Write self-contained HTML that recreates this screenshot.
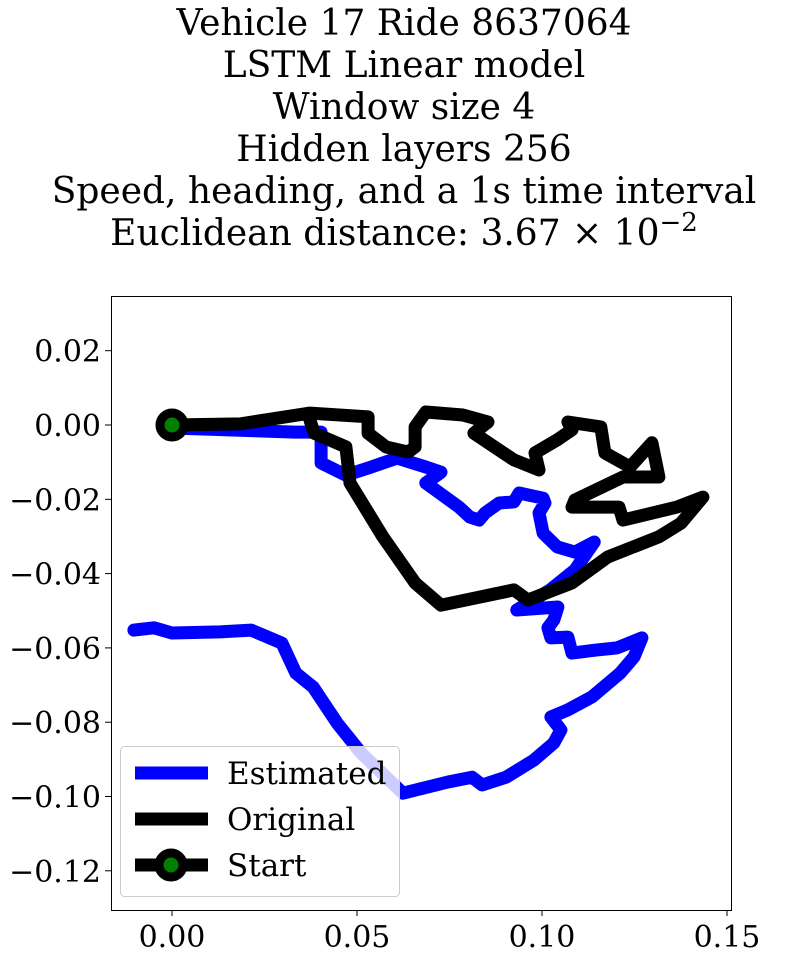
<!DOCTYPE html>
<html><head><meta charset="utf-8"><style>
body{margin:0;background:#fff;}
svg text{font-family:"DejaVu Serif","Liberation Serif",serif;fill:#000;}
</style></head><body>
<svg id="chart" width="795" height="958" viewBox="0 0 795 958" xmlns="http://www.w3.org/2000/svg">
<g font-size="36" text-anchor="middle">
<text x="404" y="35">Vehicle 17 Ride 8637064</text>
<text x="404" y="77">LSTM Linear model</text>
<text x="404" y="119">Window size 4</text>
<text x="404" y="161">Hidden layers 256</text>
<text x="404" y="203">Speed, heading, and a 1s time interval</text>
<text x="404" y="245">Euclidean distance: 3.67 × 10<tspan font-size="26" dy="-14">−2</tspan></text>
</g>
<defs><clipPath id="clip"><rect x="111" y="296" width="620" height="614"/></clipPath></defs>
<g id="marks" clip-path="url(#clip)"></g>
<rect x="111.5" y="296.5" width="620" height="614" fill="none" stroke="#000" stroke-width="1"/>
<g id="xticks" font-size="30" text-anchor="middle"></g>
<g id="yticks" font-size="30" text-anchor="end"></g>
<g>
<rect x="120.5" y="746.5" width="279" height="150" rx="4" fill="#fff" fill-opacity="0.8" stroke="#ccc"/>
<line x1="135" y1="773" x2="208" y2="773" stroke="#0000ff" stroke-width="13"/>
<text x="227" y="784" font-size="31">Estimated</text>
<line x1="135" y1="819" x2="208" y2="819" stroke="#000" stroke-width="13"/>
<text x="227" y="830" font-size="31">Original</text>
<line x1="135" y1="865" x2="208" y2="865" stroke="#000" stroke-width="13"/>
<circle cx="171" cy="865" r="12" fill="#008000" stroke="#000" stroke-width="9"/>
<text x="227" y="876" font-size="31">Start</text>
</g>
</svg>
<script>
const estX=[0,0.0332,0.0403,0.0403,0.0470,0.0530,0.0608,0.0686,0.0727,0.0716,0.0686,0.0776,0.0805,0.0830,0.0846,0.0884,0.0924,0.0938,0.1003,0.1008,0.0992,0.1003,0.1041,0.1089,0.1141,0.1089,0.1022,0.0932,0.1043,0.1032,0.1016,0.1024,0.1070,0.1081,0.1146,0.1203,0.1270,0.1249,0.1211,0.1135,0.1070,0.1024,0.1051,0.1032,0.0978,0.0903,0.0838,0.0811,0.0746,0.0624,0.0511,0.0446,0.0381,0.0335,0.0297,0.0214,0.0130,0,-0.0049,-0.0103];
const estY=[-0.0008,-0.0019,-0.0019,-0.0102,-0.0135,-0.0116,-0.0089,-0.0113,-0.0127,-0.0135,-0.0156,-0.0221,-0.0248,-0.0256,-0.0237,-0.0210,-0.0207,-0.0183,-0.0197,-0.0210,-0.0237,-0.0291,-0.0328,-0.0342,-0.0315,-0.0390,-0.0444,-0.0498,-0.0490,-0.0525,-0.0546,-0.0573,-0.0571,-0.0614,-0.0606,-0.0600,-0.0573,-0.0624,-0.0668,-0.0732,-0.0767,-0.0786,-0.0821,-0.0856,-0.0902,-0.0948,-0.0969,-0.0948,-0.0961,-0.0991,-0.0883,-0.0802,-0.0705,-0.0668,-0.0587,-0.0552,-0.0557,-0.0560,-0.0546,-0.0552];
const origX=[0,0.0184,0.0373,0.0530,0.0530,0.0578,0.0638,0.0657,0.0657,0.0686,0.0786,0.0854,0.0816,0.0924,0.0992,0.0981,0.1041,0.1081,0.1070,0.1159,0.1170,0.1238,0.1297,0.1316,0.1219,0.1089,0.1081,0.1208,0.1219,0.1365,0.1435,0.1376,0.1316,0.1178,0.1081,0.0962,0.0924,0.0727,0.0657,0.0570,0.0481,0.0470,0.0384,0.0373];
const origY=[0,0.0003,0.0032,0.0022,-0.0022,-0.0059,-0.0073,-0.0059,-0.0005,0.0035,0.0027,0.0008,-0.0022,-0.0094,-0.0121,-0.0075,-0.0040,-0.0013,0.0008,-0.0005,-0.0075,-0.0113,-0.0048,-0.0140,-0.0140,-0.0202,-0.0221,-0.0221,-0.0256,-0.0221,-0.0194,-0.0264,-0.0301,-0.0355,-0.0425,-0.0471,-0.0444,-0.0485,-0.0425,-0.0301,-0.0156,-0.0059,-0.0022,0.0013];
const startPt=[0,0];
const xTicks=[0,0.05,0.10,0.15];
const xTickLabels=["0.00","0.05","0.10","0.15"];
const yTicks=[0.02,0,-0.02,-0.04,-0.06,-0.08,-0.10,-0.12];
const yTickLabels=["0.02","0.00","−0.02","−0.04","−0.06","−0.08","−0.10","−0.12"];

const NS="http://www.w3.org/2000/svg";
function sx(v){return 172+v*3700;}
function sy(v){return 425-v*3715;}
const marks=document.getElementById('marks');
function path(xs,ys,color,name){
  const p=document.createElementNS(NS,'polyline');
  p.setAttribute('points',xs.map((x,i)=>sx(x).toFixed(1)+','+sy(ys[i]).toFixed(1)).join(' '));
  p.setAttribute('fill','none');p.setAttribute('stroke',color);p.setAttribute('stroke-width','13');
  p.setAttribute('stroke-linejoin','round');p.setAttribute('stroke-linecap','round');
  
  
  marks.appendChild(p);
}
path(estX,estY,'#0000ff','estimated-trajectory');
path(origX,origY,'#000000','original-trajectory');
const c=document.createElementNS(NS,'circle');
c.setAttribute('cx',sx(startPt[0]));c.setAttribute('cy',sy(startPt[1]));
c.setAttribute('r','12');c.setAttribute('fill','#008000');c.setAttribute('stroke','#000');c.setAttribute('stroke-width','9');


marks.appendChild(c);

const xg=document.getElementById('xticks');
xTicks.forEach((v,i)=>{
  const l=document.createElementNS(NS,'line');
  l.setAttribute('x1',sx(v));l.setAttribute('x2',sx(v));l.setAttribute('y1',910);l.setAttribute('y2',916);l.setAttribute('stroke','#000');
  
  
  xg.appendChild(l);
  const t=document.createElementNS(NS,'text');
  t.setAttribute('x',sx(v));t.setAttribute('y',947);t.textContent=xTickLabels[i];
  
  
  xg.appendChild(t);
});
const yg=document.getElementById('yticks');
yTicks.forEach((v,i)=>{
  const l=document.createElementNS(NS,'line');
  l.setAttribute('x1',105);l.setAttribute('x2',111);l.setAttribute('y1',sy(v));l.setAttribute('y2',sy(v));l.setAttribute('stroke','#000');
  
  
  yg.appendChild(l);
  const t=document.createElementNS(NS,'text');
  t.setAttribute('x',101);t.setAttribute('y',sy(v)+11);t.textContent=yTickLabels[i];
  
  
  yg.appendChild(t);
});
</script>
</body></html>
